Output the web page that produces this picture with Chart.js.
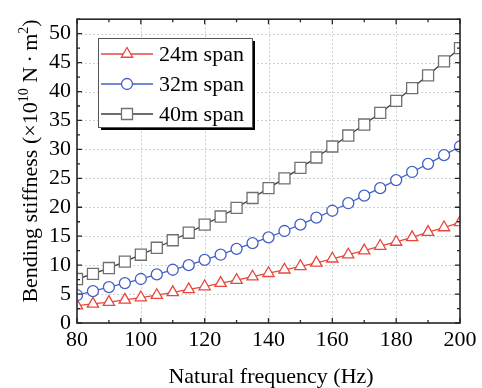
<!DOCTYPE html>
<html>
<head>
<meta charset="utf-8">
<script src="https://cdn.jsdelivr.net/npm/chart.js@4/dist/chart.umd.min.js"></script>
<style>
  html, body { margin: 0; padding: 0; background: #fff; }
  #wrap { width: 482px; height: 388px; position: relative; }
</style>
</head>
<body>
<div id="wrap"><canvas id="chart"></canvas></div>
<script>
// natural frequency (Hz)
const frequencies = [80, 85, 90, 95, 100, 105, 110, 115, 120, 125, 130, 135, 140,
    145, 150, 155, 160, 165, 170, 175, 180, 185, 190, 195, 200];
// bending stiffness (x10^10 N·m^2)
const span24 = [3.0, 3.3, 3.6, 4.0, 4.4, 4.8, 5.3, 5.8, 6.3, 6.9, 7.4, 8.0, 8.6,
    9.2, 9.8, 10.4, 11.1, 11.8, 12.5, 13.3, 14.0, 14.8, 15.7, 16.5, 17.4];
const span32 = [4.8, 5.5, 6.2, 6.9, 7.6, 8.4, 9.2, 10.0, 10.9, 11.8, 12.8, 13.8, 14.8,
    15.9, 17.0, 18.2, 19.4, 20.7, 22.0, 23.3, 24.7, 26.1, 27.5, 29.0, 30.5];
const span40 = [7.6, 8.5, 9.5, 10.6, 11.8, 13.0, 14.3, 15.6, 17.0, 18.4, 19.9, 21.6, 23.3,
    25.0, 26.8, 28.6, 30.5, 32.4, 34.3, 36.3, 38.4, 40.6, 42.8, 45.2, 47.5];
const seriesLabels = ['24m span', '32m span', '40m span'];
const xTicksMajor = [80, 100, 120, 140, 160, 180, 200];
const yTicksMajor = [0, 5, 10, 15, 20, 25, 30, 35, 40, 45, 50];

const FONT = '"Liberation Serif", "DejaVu Serif", serif';

const toPoints = (vals) => vals.map((v, i) => ({ x: frequencies[i], y: v }));

const styles = [
    { line: '#e8473d', edge: '#e8473d', shape: 'triangle', r: 6.5 },
    { line: '#4560c6', edge: '#4560c6', shape: 'circle', r: 5.5 },
    { line: '#3c3c3c', edge: '#707070', shape: 'rect', r: 7.8 },
];

const datasets = [span24, span32, span40].map((vals, i) => ({
    label: seriesLabels[i],
    data: toPoints(vals),
    borderColor: styles[i].line,
    borderWidth: 1.3,
    pointStyle: styles[i].shape,
    pointRadius: styles[i].r,
    pointBorderColor: styles[i].edge,
    pointBackgroundColor: '#fff',
    pointBorderWidth: 1.3,
    tension: 0,
    fill: false,
})).reverse();

const axisDecor = {
    id: 'axisDecor',
    beforeDatasetsDraw(chart) {
        const { ctx, chartArea: a, scales: { x, y } } = chart;
        ctx.save();
        ctx.strokeStyle = '#cfcfcf';
        ctx.lineWidth = 1;
        ctx.setLineDash([2, 2]);
        xTicksMajor.forEach(v => {
            const px = Math.round(x.getPixelForValue(v)) + 0.5;
            ctx.beginPath(); ctx.moveTo(px, a.top); ctx.lineTo(px, a.bottom); ctx.stroke();
        });
        yTicksMajor.forEach(v => {
            const py = Math.round(y.getPixelForValue(v)) + 0.5;
            ctx.beginPath(); ctx.moveTo(a.left, py); ctx.lineTo(a.right, py); ctx.stroke();
        });
        ctx.restore();
    },
    afterDatasetsDraw(chart) {
        const { ctx, chartArea: a, scales: { x, y } } = chart;
        ctx.save();
        ctx.strokeStyle = '#262626';
        ctx.lineWidth = 1.6;
        ctx.setLineDash([]);
        ctx.strokeRect(a.left, a.top, a.right - a.left, a.bottom - a.top);

        // inward ticks on all four sides
        ctx.lineWidth = 1.3;
        for (let v = 80; v <= 200; v += 10) {
            const px = x.getPixelForValue(v);
            const len = v % 20 === 0 ? 5 : 3;
            ctx.beginPath();
            ctx.moveTo(px, a.bottom); ctx.lineTo(px, a.bottom - len);
            ctx.moveTo(px, a.top); ctx.lineTo(px, a.top + len);
            ctx.stroke();
        }
        for (let v = 0; v <= 52.5; v += 2.5) {
            const py = y.getPixelForValue(v);
            const len = v % 5 === 0 ? 5 : 3;
            ctx.beginPath();
            ctx.moveTo(a.left, py); ctx.lineTo(a.left + len, py);
            ctx.moveTo(a.right, py); ctx.lineTo(a.right - len, py);
            ctx.stroke();
        }

        // x axis title
        ctx.fillStyle = '#000';
        ctx.font = '22px ' + FONT;
        ctx.textAlign = 'center';
        ctx.textBaseline = 'alphabetic';
        ctx.fillText('Natural frequency (Hz)', 271, 383);

        // y axis title with superscripts
        const parts = [
            { t: 'Bending stiffness (\u00d710', sup: false },
            { t: '10', sup: true },
            { t: ' N\u2009\u00b7\u2009m', sup: false },
            { t: '2', sup: true },
            { t: ')', sup: false },
        ];
        const mainFont = '22px ' + FONT, supFont = '14px ' + FONT;
        let total = 0;
        parts.forEach(p => { ctx.font = p.sup ? supFont : mainFont; p.w = ctx.measureText(p.t).width; total += p.w; });
        ctx.translate(37, 161);
        ctx.rotate(-Math.PI / 2);
        ctx.textAlign = 'left';
        let u = -total / 2;
        parts.forEach(p => {
            ctx.font = p.sup ? supFont : mainFont;
            ctx.fillText(p.t, u, p.sup ? -9 : 0);
            u += p.w;
        });
        ctx.restore();

        // legend box with drop shadow
        ctx.save();
        const bx = 98, by = 38, bw = 154, bh = 89;
        ctx.fillStyle = '#000';
        ctx.fillRect(bx + 3, by + 3, bw, bh);
        ctx.fillStyle = '#fff';
        ctx.fillRect(bx, by, bw, bh);
        ctx.strokeStyle = '#555';
        ctx.lineWidth = 1;
        ctx.strokeRect(bx + 0.5, by + 0.5, bw, bh);
        const rows = [54, 84, 114];
        styles.forEach((s, i) => {
            const ry = rows[i];
            ctx.strokeStyle = s.line;
            ctx.lineWidth = 1.3;
            ctx.beginPath(); ctx.moveTo(101, ry); ctx.lineTo(153, ry); ctx.stroke();
            ctx.fillStyle = '#fff';
            ctx.strokeStyle = s.edge;
            Chart.helpers.drawPoint(ctx, { pointStyle: s.shape, radius: s.r, rotation: 0, borderWidth: 1.3 }, 127, ry);
            ctx.fillStyle = '#000';
            ctx.font = '22px ' + FONT;
            ctx.textAlign = 'left';
            ctx.textBaseline = 'middle';
            ctx.fillText(seriesLabels[i], 159, ry + 1);
        });
        ctx.restore();
    }
};

new Chart(document.getElementById('chart'), {
    type: 'line',
    data: { datasets },
    options: {
        responsive: true,
        maintainAspectRatio: false,
        animation: false,
        layout: { padding: { left: 0, right: 22, top: 10, bottom: 0 } },
        plugins: { legend: { display: false }, tooltip: { enabled: false } },
        scales: {
            x: {
                type: 'linear',
                min: 80, max: 200,
                afterFit: (s) => { s.height = 65; },
                grid: { display: false, drawTicks: false },
                border: { display: false },
                ticks: {
                    stepSize: 20, padding: 4, includeBounds: false,
                    color: '#000', font: { family: FONT, size: 22 },
                    maxRotation: 0,
                },
            },
            y: {
                min: 0, max: 52.5,
                afterFit: (s) => { s.width = 77; },
                grid: { display: false, drawTicks: false },
                border: { display: false },
                ticks: {
                    stepSize: 5, padding: 6, includeBounds: false,
                    color: '#000', font: { family: FONT, size: 22 },
                },
            },
        },
    },
    plugins: [axisDecor],
});
</script>
</body>
</html>
